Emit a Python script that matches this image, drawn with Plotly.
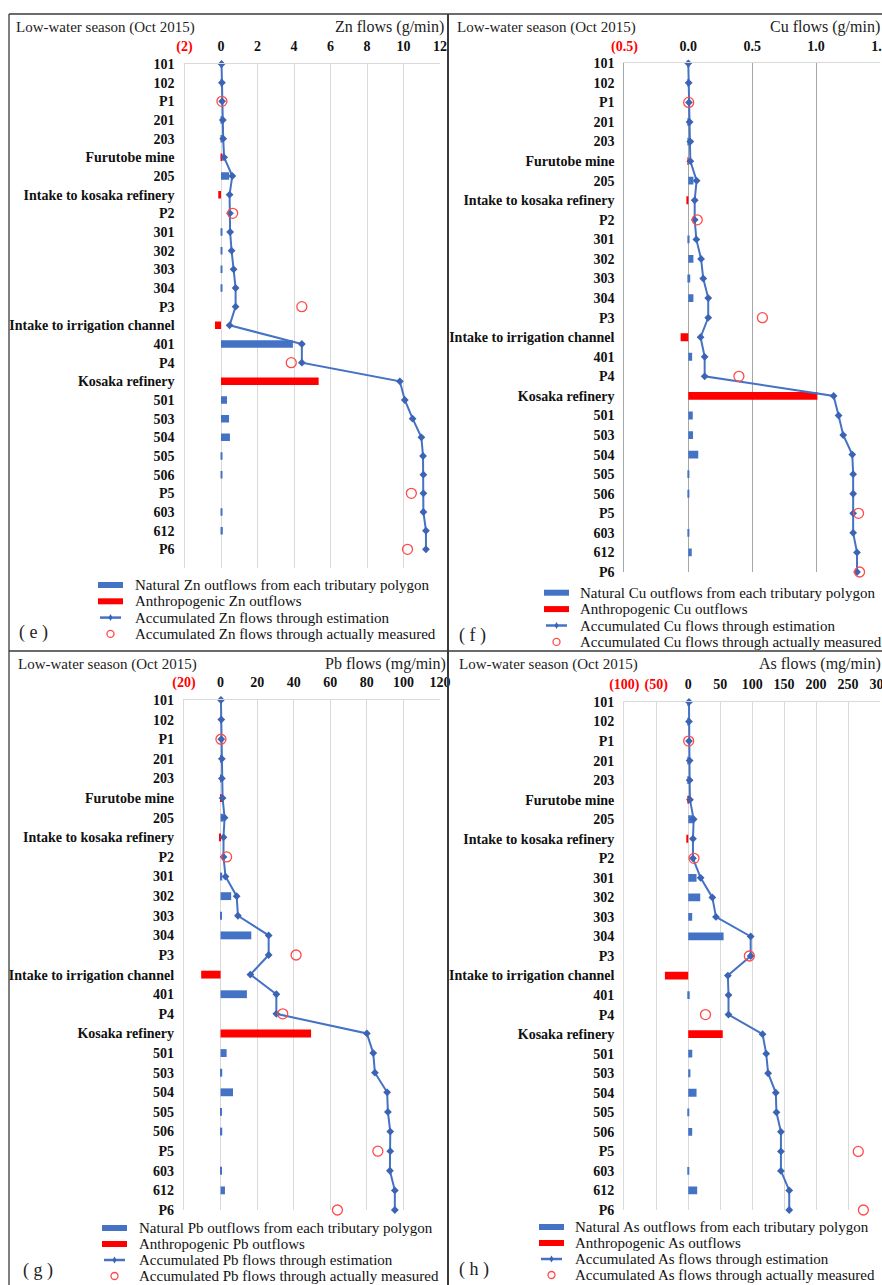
import plotly.graph_objects as go

# ---------------- data ----------------
categories = ["101", "102", "P1", "201", "203", "Furutobe mine", "205",
              "Intake to kosaka refinery", "P2", "301", "302", "303", "304", "P3",
              "Intake to irrigation channel", "401", "P4", "Kosaka refinery",
              "501", "503", "504", "505", "506", "P5", "603", "612", "P6"]
measured_sites = ["P1", "P2", "P3", "P4", "P5", "P6"]

# Zn (g/min)
zn_natural = [0.02, 0.02, None, 0.03, 0.03, None, 0.45, None, None, 0.05, 0.07, 0.08, 0.08, None,
              None, 3.94, None, None, 0.33, 0.44, 0.49, 0.05, 0.03, None, 0.03, 0.10, None]
zn_anthro = [None, None, None, None, None, 0.08, None, -0.15, None, None, None, None, None, None,
             -0.33, None, None, 5.35, None, None, None, None, None, None, None, None, None]
zn_accum = [0.03, 0.05, 0.06, 0.10, 0.12, 0.17, 0.62, 0.47, 0.49, 0.50, 0.58, 0.69, 0.80, 0.80,
            0.47, 4.43, 4.43, 9.80, 10.07, 10.50, 10.98, 11.07, 11.09, 11.09, 11.09, 11.23, 11.23]
zn_measured = [0.05, 0.64, 4.43, 3.85, 10.43, 10.22]
zn_ticks = [-2, 0, 2, 4, 6, 8, 10, 12]
zn_ticklabels = ["(2)", "0", "2", "4", "6", "8", "10", "12"]

# Cu (g/min)
cu_natural = [0.002, 0.002, None, 0.003, 0.003, None, 0.040, None, None, 0.010, 0.040, 0.015, 0.040, None,
              None, 0.030, None, None, 0.035, 0.037, 0.078, 0.003, 0.002, None, 0.002, 0.027, None]
cu_anthro = [None, None, None, None, None, -0.005, None, -0.012, None, None, None, None, None, None,
             -0.060, None, None, 1.010, None, None, None, None, None, None, None, None, None]
cu_accum = [0.000, 0.003, 0.005, 0.010, 0.016, 0.016, 0.065, 0.050, 0.050, 0.063, 0.100, 0.117, 0.156, 0.156,
            0.096, 0.128, 0.128, 1.137, 1.176, 1.212, 1.283, 1.290, 1.290, 1.290, 1.290, 1.320, 1.320]
cu_measured = [0.003, 0.070, 0.580, 0.396, 1.332, 1.340]
cu_ticks = [-0.5, 0.0, 0.5, 1.0, 1.5]
cu_ticklabels = ["(0.5)", "0.0", "0.5", "1.0", "1.5"]

# Pb (mg/min)
pb_natural = [0.2, 0.2, None, 0.3, 0.2, None, 1.6, None, None, 0.9, 5.8, 0.5, 16.8, None,
              None, 14.4, None, None, 3.3, 0.9, 6.8, 0.3, 0.9, None, 0.4, 2.4, None]
pb_anthro = [None, None, None, None, None, 0.4, None, -0.8, None, None, None, None, None, None,
             -10.6, None, None, 49.5, None, None, None, None, None, None, None, None, None]
pb_accum = [0.2, 0.4, 0.4, 0.7, 0.7, 1.1, 2.2, 1.6, 1.6, 2.7, 8.8, 9.5, 26.3, 26.3,
            16.3, 30.5, 30.5, 80.0, 83.5, 84.4, 91.1, 91.5, 92.8, 92.8, 92.6, 95.3, 95.3]
pb_measured = [0.2, 3.3, 41.3, 34.0, 86.0, 63.9]
pb_ticks = [-20, 0, 20, 40, 60, 80, 100, 120]
pb_ticklabels = ["(20)", "0", "20", "40", "60", "80", "100", "120"]

# As (mg/min)
as_natural = [0.5, 0.5, None, 1.0, 0.5, None, 7.8, None, None, 13.0, 18.8, 6.2, 55.3, None,
              None, 2.3, None, None, 6.3, 3.4, 13.0, 1.3, 6.2, None, 1.3, 14.0, None]
as_anthro = [None, None, None, None, None, 1.5, None, -2.5, None, None, None, None, None, None,
             -36.5, None, None, 54.0, None, None, None, None, None, None, None, None, None]
as_accum = [1.2, 1.2, 1.2, 2.2, 2.2, 2.7, 8.5, 7.4, 7.4, 19.4, 37.7, 43.4, 97.7, 97.7,
            62.0, 63.0, 63.0, 116.3, 122.0, 125.0, 137.0, 138.0, 145.0, 145.0, 145.0, 158.0, 158.0]
as_measured = [0.7, 9.0, 95.6, 27.0, 266.0, 274.0]
as_ticks = [-100, -50, 0, 50, 100, 150, 200, 250, 300]
as_ticklabels = ["(100)", "(50)", "0", "50", "100", "150", "200", "250", "300"]

# ---------------- layout helpers ----------------
W, H = 882, 1285
SERIF = "Liberation Serif"
BLUE = "#4472C4"
RED = "#FF0000"
CIRC = "#FF4A4A"


def fx(x):
    return x / W


def fy(y):
    return 1 - y / H


ypos = list(range(len(categories)))
meas_pos = [categories.index(c) for c in measured_sites]


def red(s):
    return "<span style='color:#FF0000'>" + s + "</span>"


panels = [
    dict(el="Zn", unit="g/min", nat=zn_natural, ant=zn_anthro, acc=zn_accum, mea=zn_measured,
         tv=zn_ticks, tt=zn_ticklabels, xr=[-2, 12], yr=[27, 0],
         xd=(184.5, 440), yd=(64, 568), grid="#d9d9d9",
         head=(14, 27), ftitle=(333, 27), leg=(98, 133, 585, 16.3), lab=(17, 632, "( e )")),
    dict(el="Cu", unit="g/min", nat=cu_natural, ant=cu_anthro, acc=cu_accum, mea=cu_measured,
         tv=cu_ticks, tt=cu_ticklabels, xr=[-0.5, 1.5], yr=[26, 0],
         xd=(624.4, 880), yd=(63.3, 572), grid="#a6a6a6",
         head=(455, 27), ftitle=(768, 27), leg=(544, 578, 592.7, 16.4), lab=(457, 635, "( f )")),
    dict(el="Pb", unit="mg/min", nat=pb_natural, ant=pb_anthro, acc=pb_accum, mea=pb_measured,
         tv=pb_ticks, tt=pb_ticklabels, xr=[-20, 120], yr=[26, 0],
         xd=(184, 440), yd=(700, 1210), grid="#d9d9d9",
         head=(16, 664), ftitle=(323, 664), leg=(102, 137, 1228, 16.0), lab=(21, 1270, "( g )")),
    dict(el="As", unit="mg/min", nat=as_natural, ant=as_anthro, acc=as_accum, mea=as_measured,
         tv=as_ticks, tt=as_ticklabels, xr=[-100, 300], yr=[26, 0],
         xd=(624.3, 880), yd=(702, 1210), grid="#d9d9d9",
         head=(457, 664), ftitle=(757, 664), leg=(539, 573, 1227, 16.0), lab=(457, 1269, "( h )")),
]

fig = go.Figure()
layout = {}
annotations = []
shapes = []

for i, p in enumerate(panels):
    n = i + 1
    xa = "x" if n == 1 else "x%d" % n
    ya = "y" if n == 1 else "y%d" % n
    # bars
    fig.add_trace(go.Bar(x=p["nat"], y=ypos, orientation="h", width=0.4,
                         marker=dict(color=BLUE, line=dict(width=0)),
                         xaxis=xa, yaxis=ya, showlegend=False,
                         name="Natural %s outflows from each tributary polygon" % p["el"]))
    fig.add_trace(go.Bar(x=p["ant"], y=ypos, orientation="h", width=0.4,
                         marker=dict(color=RED, line=dict(width=0)),
                         xaxis=xa, yaxis=ya, showlegend=False,
                         name="Anthropogenic %s outflows" % p["el"]))
    fig.add_trace(go.Scatter(x=p["acc"], y=ypos, mode="lines+markers",
                             line=dict(color=BLUE, width=2),
                             marker=dict(symbol="diamond", size=6, color="#3B64B5"),
                             xaxis=xa, yaxis=ya, showlegend=False, cliponaxis=False,
                             name="Accumulated %s flows through estimation" % p["el"]))
    fig.add_trace(go.Scatter(x=p["mea"], y=meas_pos, mode="markers",
                             marker=dict(symbol="circle-open", size=10, color=CIRC,
                                         line=dict(width=1.3, color=CIRC)),
                             xaxis=xa, yaxis=ya, showlegend=False, cliponaxis=False,
                             name="Accumulated %s flows through actually measured" % p["el"]))

    xdom = [fx(p["xd"][0]), fx(p["xd"][1])]
    ydom = [fy(p["yd"][1]), fy(p["yd"][0])]
    ticktext = [red(t) if v < 0 else t for v, t in zip(p["tv"], p["tt"])]
    layout["xaxis" if n == 1 else "xaxis%d" % n] = dict(
        domain=xdom, anchor=ya, side="top", range=p["xr"], tickvals=p["tv"], ticktext=ticktext,
        showgrid=True, gridcolor=p["grid"], gridwidth=1.3, zeroline=False, automargin=False,
        ticklabeloverflow="allow",
        showline=True, linecolor="#d9d9d9", linewidth=1.3,
        ticks="outside", ticklen=6, tickcolor="rgba(0,0,0,0)",
        tickfont=dict(family=SERIF, size=14, color="#111", weight="bold"))
    layout["yaxis" if n == 1 else "yaxis%d" % n] = dict(
        domain=ydom, anchor=xa, range=p["yr"], tickvals=ypos, ticktext=categories,
        showgrid=False, zeroline=False, showline=True, linecolor=p["grid"], linewidth=1.3,
        automargin=False, ticks="outside", ticklen=6, tickcolor="rgba(0,0,0,0)",
        tickfont=dict(family=SERIF, size=14, color="#111", weight="bold"))
    # category axis crossing at zero, with small outside ticks
    zero_pos = xdom[0] + (0 - p["xr"][0]) / (p["xr"][1] - p["xr"][0]) * (xdom[1] - xdom[0])
    layout["yaxis%d" % (n + 4)] = dict(
        overlaying=ya, anchor="free", position=zero_pos, side="left", range=p["yr"],
        tickvals=ypos, showticklabels=False, showgrid=False, zeroline=False, automargin=False,
        showline=True, linecolor="#d0d0d0", linewidth=1.3, layer="below traces",
        ticks="outside", ticklen=4, tickcolor="#bfbfbf", tickwidth=1)

    # header texts
    annotations.append(dict(x=fx(p["head"][0]), y=fy(p["head"][1]), xref="paper", yref="paper",
                            text="Low-water season (Oct 2015)", showarrow=False,
                            xanchor="left", yanchor="middle",
                            font=dict(family=SERIF, size=15, color="#222")))
    annotations.append(dict(x=fx(p["ftitle"][0]), y=fy(p["ftitle"][1]), xref="paper", yref="paper",
                            text="%s flows (%s)" % (p["el"], p["unit"]), showarrow=False,
                            xanchor="left", yanchor="middle",
                            font=dict(family=SERIF, size=16, color="#222")))
    annotations.append(dict(x=fx(p["lab"][0]), y=fy(p["lab"][1]), xref="paper", yref="paper",
                            text=p["lab"][2], showarrow=False, xanchor="left", yanchor="middle",
                            font=dict(family=SERIF, size=18, color="#222")))

    # legend (drawn beneath each panel)
    kx, tx, ly, dy = p["leg"]
    rows = ["Natural %s outflows from each tributary polygon" % p["el"],
            "Anthropogenic %s outflows" % p["el"],
            "Accumulated %s flows through estimation" % p["el"],
            "Accumulated %s flows through actually measured" % p["el"]]
    for k, t in enumerate(rows):
        annotations.append(dict(x=fx(tx), y=fy(ly + k * dy), xref="paper", yref="paper",
                                text=t, showarrow=False, xanchor="left", yanchor="middle",
                                font=dict(family=SERIF, size=15, color="#111")))
    shapes.append(dict(type="rect", xref="paper", yref="paper", x0=fx(kx), x1=fx(kx + 25),
                       y0=fy(ly + 3), y1=fy(ly - 3), fillcolor=BLUE, line=dict(width=0)))
    shapes.append(dict(type="rect", xref="paper", yref="paper", x0=fx(kx), x1=fx(kx + 25),
                       y0=fy(ly + dy + 3), y1=fy(ly + dy - 3), fillcolor=RED, line=dict(width=0)))
    yl = ly + 2 * dy
    shapes.append(dict(type="line", xref="paper", yref="paper", x0=fx(kx + 2), x1=fx(kx + 23),
                       y0=fy(yl), y1=fy(yl), line=dict(color=BLUE, width=2.5)))
    cx = kx + 12.5
    shapes.append(dict(type="path", xref="paper", yref="paper",
                       path="M %f %f L %f %f L %f %f L %f %f Z" % (
                           fx(cx - 2), fy(yl), fx(cx), fy(yl - 3.5), fx(cx + 2), fy(yl), fx(cx), fy(yl + 3.5)),
                       fillcolor="#3B64B5", line=dict(width=0)))
    yc = ly + 3 * dy
    shapes.append(dict(type="circle", xref="paper", yref="paper", x0=fx(cx - 3.5), x1=fx(cx + 3.5),
                       y0=fy(yc + 3.5), y1=fy(yc - 3.5), line=dict(color=CIRC, width=1.3)))

# panel frames
frame = dict(color="#3a3a3a", width=1.3)
shapes += [
    dict(type="line", xref="paper", yref="paper", x0=fx(9), x1=fx(882), y0=fy(14), y1=fy(14), line=frame),
    dict(type="line", xref="paper", yref="paper", x0=fx(9), x1=fx(882), y0=fy(651), y1=fy(651), line=frame),
    dict(type="line", xref="paper", yref="paper", x0=fx(9), x1=fx(9), y0=fy(14), y1=fy(1285), line=frame),
    dict(type="line", xref="paper", yref="paper", x0=fx(448), x1=fx(448), y0=fy(14), y1=fy(1285),
         line=dict(color="#3a3a3a", width=2)),
]

fig.update_layout(
    width=W, height=H, margin=dict(l=0, r=0, t=0, b=0, autoexpand=False),
    paper_bgcolor="white", plot_bgcolor="white",
    barmode="overlay", showlegend=False,
    annotations=annotations, shapes=shapes, **layout)

fig.write_html("out.html", config={"displayModeBar": False},
               post_script="document.body.style.margin='0px';document.body.style.overflow='hidden';")
